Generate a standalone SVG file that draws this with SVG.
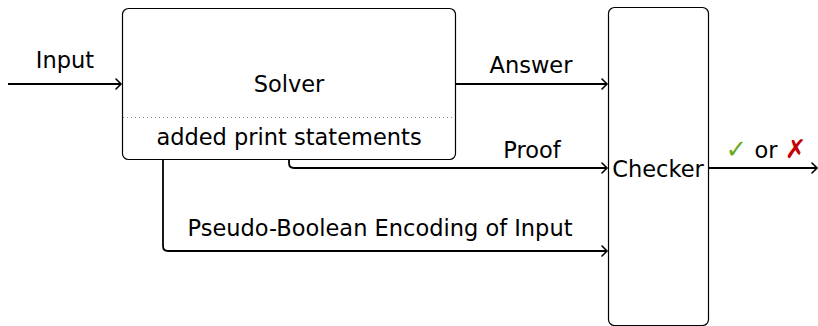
<svg xmlns="http://www.w3.org/2000/svg" width="818" height="326" viewBox="0 0 818 326">
<defs>
<style>
.box{fill:#fff;stroke:#000;stroke-width:1.2}
.edge{fill:none;stroke:#000;stroke-width:1.8}
.t{font-family:"DejaVu Sans","Liberation Sans",sans-serif;font-size:22.5px;fill:#000;text-anchor:middle}
.mk{font-size:26px;font-weight:bold}
</style>
<marker id="arr" viewBox="-6 -6 8 12" markerWidth="8" markerHeight="12" refX="0" refY="0" orient="auto" markerUnits="userSpaceOnUse">
<path d="M-5,-5 Q-1,-1 0,0 Q-1,1 -5,5" fill="none" stroke="#000" stroke-width="1.6" stroke-linecap="round"/>
</marker>
</defs>
<rect width="818" height="326" fill="#fff"/>
<g id="solver">
<rect class="box" x="122.5" y="8.5" width="333" height="151" rx="6"/>
<line x1="123" y1="117.5" x2="455" y2="117.5" stroke="#888" stroke-width="1" stroke-dasharray="1,3"/>
<text class="t" x="289" y="92">Solver</text>
<text class="t" x="289" y="145">added print statements</text>
</g>
<g id="checker">
<rect class="box" x="608.5" y="7.5" width="100" height="318" rx="6"/>
<text class="t" x="658" y="177">Checker</text>
</g>
<g id="connectors">
<path class="edge" d="M8,84 H121" marker-end="url(#arr)"/>
<text class="t" x="65" y="68">Input</text>
<path class="edge" d="M455,84 H607" marker-end="url(#arr)"/>
<text class="t" x="531" y="73">Answer</text>
<path class="edge" d="M289,159 V163 Q289,168 294,168 H607" marker-end="url(#arr)"/>
<text class="t" x="532" y="158">Proof</text>
<path class="edge" d="M163,159 V246 Q163,251 168,251 H607" marker-end="url(#arr)"/>
<text class="t" x="380" y="236">Pseudo-Boolean Encoding of Input</text>
<path class="edge" d="M708,168 H817" marker-end="url(#arr)"/>
<text class="t" x="766" y="158"><tspan class="mk" fill="#6aaa1e">✓</tspan> or <tspan class="mk" fill="#c40000">✗</tspan></text>
</g>
</svg>
